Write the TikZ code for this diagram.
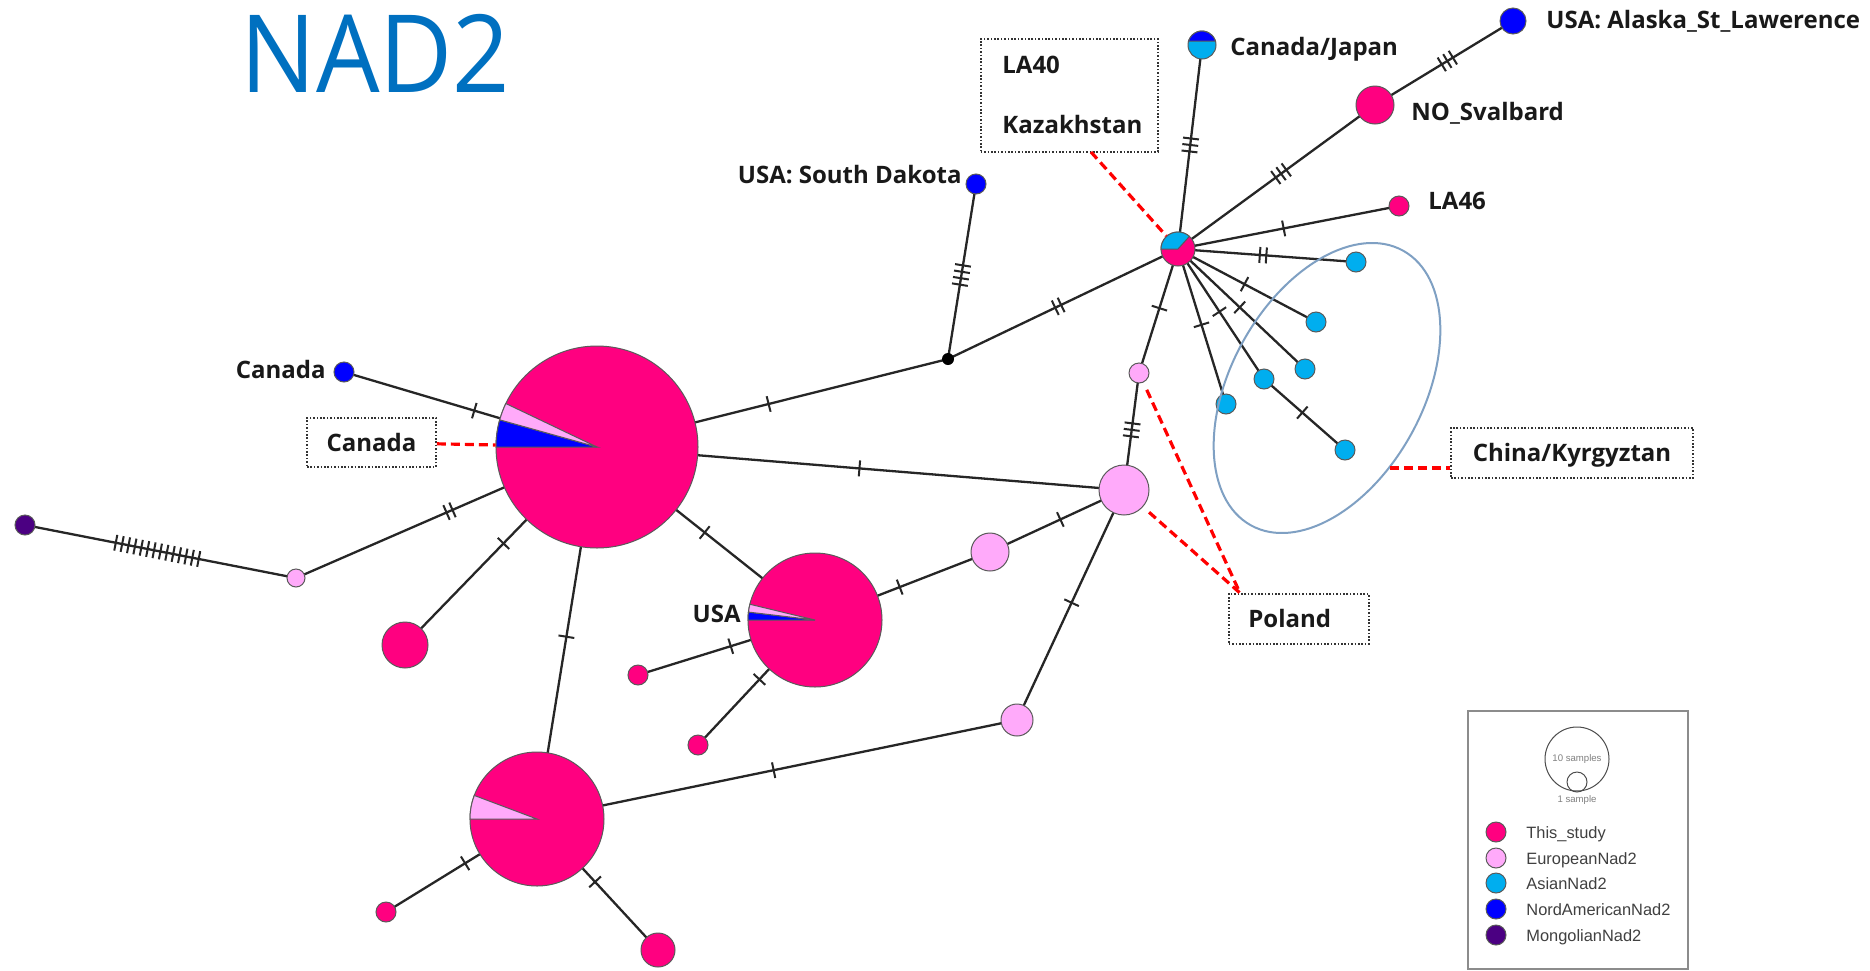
\documentclass[tikz,border=0pt]{standalone}
\usepackage{fontspec}
\setmainfont{Open Sans}
\newfontfamily\legfont{Liberation Sans}
\pgfdeclarelayer{edges}
\pgfsetlayers{edges,main}

\definecolor{studypink}{RGB}{255,0,128}
\definecolor{europink}{RGB}{255,170,250}
\definecolor{asiablue}{RGB}{0,174,239}
\definecolor{nablue}{RGB}{0,0,255}
\definecolor{mongpurple}{RGB}{75,0,130}
\definecolor{titleblue}{RGB}{0,112,192}
\definecolor{hullblue}{RGB}{127,160,195}
\definecolor{rimgray}{RGB}{90,90,90}

\tikzset{
  hap/.style={circle, draw=rimgray, line width=0.5pt, inner sep=0pt, minimum size=#1pt},
  study/.style={hap=#1, fill=studypink},
  euro/.style={hap=#1, fill=europink},
  asia/.style={hap=#1, fill=asiablue},
  nam/.style={hap=#1, fill=nablue},
  mong/.style={hap=#1, fill=mongpurple},
  link/.style={line width=1.15pt, draw=black!85},
  callout/.style={draw=red, line width=1.6pt, dash pattern=on 4.5pt off 2.5pt},
  tag/.style={font=\fontsize{12}{14}\selectfont\bfseries, text=black!90, inner sep=0pt},
  tagbox/.style={draw=black!80, line width=0.8pt, dash pattern=on 0.8pt off 0.9pt, fill=white, inner sep=0pt},
  legtxt/.style={font=\legfont\fontsize{8.2}{10}\selectfont, text=black!75, inner sep=0pt, anchor=base west},
  tiny/.style={font=\legfont\fontsize{4.8}{5}\selectfont, text=black!50, inner sep=0pt},
  pics/tk/.style={code={\foreach \k in {1,...,#1}{\draw[line width=1pt, black!85] ({(\k-(#1+1)/2)*6.5},-8) -- ({(\k-(#1+1)/2)*6.5},8);}}},
}
% slice of a pie chart: node, radius, start angle, end angle, colour
\newcommand\pieslice[5]{\filldraw[fill=#5, draw=rimgray, line width=0.5pt] (#1.center) -- ++(#3:#2) arc[start angle=#3, end angle=#4, radius=#2] -- cycle;}

\begin{document}
\begin{tikzpicture}[x=0.5pt, y=0.5pt]
\begin{pgfonlayer}{edges}
\fill[white] (0,0) rectangle (1870,-970);
\end{pgfonlayer}
\useasboundingbox (0,0) rectangle (1870,-970);

% title
\node[font=\fontsize{54}{60}\selectfont, text=titleblue, inner sep=0pt, anchor=base west] (title) at (240,-92) {\scalebox{0.93}[1]{NAD2}};

% haplotypes of this study
\node[study=101] (main) at (597,-447) {};
\node[study=67] (usa) at (815,-620) {};
\node[study=67] (low) at (537,-819) {};
\node[study=17] (hub) at (1178,-249) {};
\node[study=23] (s1) at (405,-645) {};
\node[study=10] (s2) at (638,-675) {};
\node[study=10] (s3) at (698,-745) {};
\node[study=10] (s4) at (386,-912) {};
\node[study=17] (s5) at (658,-950) {};
\node[study=19] (nos) at (1375,-105) {};
\node[study=10] (la46) at (1399,-206) {};
% reference haplotypes
\node[mong=10] (mg) at (25,-525) {};
\node[euro=9] (e1) at (296,-578) {};
\node[euro=19] (e2) at (990,-552) {};
\node[euro=25] (e3) at (1124,-490) {};
\node[euro=16] (e4) at (1017,-720) {};
\node[euro=10] (e5) at (1139,-373) {};
\node[nam=10] (cn) at (344,-372) {};
\node[nam=10] (sd) at (976,-184) {};
\node[nam=13] (ak) at (1513,-21) {};
\node[asia=14] (cj) at (1202,-45) {};
\node[asia=10] (a1) at (1356,-262) {};
\node[asia=10] (a2) at (1316,-322) {};
\node[asia=10] (a3) at (1305,-369) {};
\node[asia=10] (a4) at (1264,-379) {};
\node[asia=10] (a5) at (1226,-404) {};
\node[asia=10] (a6) at (1345,-450) {};
\node[circle, fill=black, inner sep=0pt, minimum size=6pt] (mv) at (948,-359) {};

% pie slices
\pieslice{main}{101}{164.4}{180}{nablue}
\pieslice{main}{101}{154.5}{164.4}{europink}
\pieslice{usa}{67}{173.2}{180}{nablue}
\pieslice{usa}{67}{166.4}{173.2}{europink}
\pieslice{low}{67}{159.4}{180}{europink}
\pieslice{hub}{17}{48}{180}{asiablue}
\filldraw[fill=nablue, draw=rimgray, line width=0.5pt] (cj.center) ++(16.6:14) arc[start angle=16.6, end angle=163.4, radius=14] -- cycle;

% mutational links
\begin{pgfonlayer}{edges}
\draw[link] (mg.center) -- pic[pos=.488,sloped]{tk=14} (e1.center);
\draw[link] (e1.center) -- pic[pos=.510,sloped]{tk=2} (main.center);
\draw[link] (cn.center) -- pic[pos=.515,sloped]{tk=1} (main.center);
\draw[link] (main.center) -- pic[pos=.487,sloped]{tk=1} (s1.center);
\draw[link] (main.center) -- pic[pos=.510,sloped]{tk=1} (low.center);
\draw[link] (main.center) -- pic[pos=.494,sloped]{tk=1} (usa.center);
\draw[link] (main.center) -- pic[pos=.489,sloped]{tk=1} (mv.center);
\draw[link] (main.center) -- pic[pos=.498,sloped]{tk=1} (e3.center);
\draw[link] (mv.center) -- pic[pos=.480,sloped]{tk=4} (sd.center);
\draw[link] (mv.center) -- pic[pos=.479,sloped]{tk=2} (hub.center);
\draw[link] (usa.center) -- pic[pos=.476,sloped]{tk=1} (s2.center);
\draw[link] (usa.center) -- pic[pos=.475,sloped]{tk=1} (s3.center);
\draw[link] (usa.center) -- pic[pos=.484,sloped]{tk=1} (e2.center);
\draw[link] (e2.center) -- pic[pos=.525,sloped]{tk=1} (e3.center);
\draw[link] (e3.center) -- pic[pos=.490,sloped]{tk=1} (e4.center);
\draw[link] (e4.center) -- pic[pos=.507,sloped]{tk=1} (low.center);
\draw[link] (low.center) -- pic[pos=.476,sloped]{tk=1} (s4.center);
\draw[link] (low.center) -- pic[pos=.480,sloped]{tk=1} (s5.center);
\draw[link] (e3.center) -- pic[pos=.514,sloped]{tk=3} (e5.center);
\draw[link] (e5.center) -- pic[pos=.523,sloped]{tk=1} (hub.center);
\draw[link] (hub.center) -- pic[pos=.510,sloped]{tk=3} (cj.center);
\draw[link] (hub.center) -- pic[pos=.523,sloped]{tk=3} (nos.center);
\draw[link] (nos.center) -- pic[pos=.524,sloped]{tk=3} (ak.center);
\draw[link] (hub.center) -- pic[pos=.478,sloped]{tk=1} (la46.center);
\draw[link] (hub.center) -- pic[pos=.478,sloped]{tk=2} (a1.center);
\draw[link] (hub.center) -- pic[pos=.482,sloped]{tk=1} (a2.center);
\draw[link] (hub.center) -- pic[pos=.486,sloped]{tk=1} (a3.center);
\draw[link] (hub.center) -- pic[pos=.482,sloped]{tk=1} (a4.center);
\draw[link] (hub.center) -- pic[pos=.489,sloped]{tk=1} (a5.center);
\draw[link] (a4.center) -- pic[pos=.473,sloped]{tk=1} (a6.center);
\end{pgfonlayer}

% Asian cluster outline
\draw[hullblue, line width=1pt, rotate around={61:(1327,-388)}] (1327,-388) ellipse [x radius=157, y radius=96];

% haplotype labels
\node[tag, anchor=base east] (cnlab) at (326,-378) {Canada};
\node[tag, anchor=base east] (sdlab) at (962,-183) {USA: South Dakota};
\node[tag, anchor=base east] (usalab) at (741,-622) {USA};
\node[tag, anchor=base west] (cjlab) at (1230,-55) {Canada/Japan};
\node[tag, anchor=base west] (noslab) at (1411,-120) {NO\_Svalbard};
\node[tag, anchor=base west] (aklab) at (1546,-28) {USA: Alaska\_St\_Lawerence};
\node[tag, anchor=base west] (la46lab) at (1428,-209) {LA46};

% call-out boxes
\node[tagbox, tag, draw=black!80, inner sep=0pt, minimum width=64.5pt, minimum height=24.5pt, text height=8.6pt, text depth=0pt] (canbox) at (371.5,-442.5) {Canada};
\node[tagbox, minimum width=88.5pt, minimum height=56.5pt, anchor=north west] (kazbox) at (980,-38) {};
\node[tag, anchor=base west] (la40) at (1002,-73) {LA40};
\node[tag, anchor=base west] (kaz) at (1002,-133) {Kazakhstan};
\node[tagbox, minimum width=70pt, minimum height=25pt, anchor=north west] (polbox) at (1228,-593) {};
\node[tag, anchor=base west] (pol) at (1248,-627) {Poland};
\node[tagbox, tag, draw=black!80, inner sep=0pt, minimum width=121pt, minimum height=25pt, text height=8.6pt, text depth=0pt] (chbox) at (1572,-453) {China/Kyrgyztan};

\coordinate (kazfoot) at (1091,-152);
\coordinate (polfoot) at (1240,-593);
\coordinate (chfoot) at (1390,-468);
\draw[callout] (canbox) -- (main);
\draw[callout] (kazfoot) -- (hub);
\draw[callout, shorten <=4pt] (e5) -- (polfoot);
\draw[callout, shorten <=4pt] (e3) -- (polfoot);
\draw[callout] (chfoot) -- (chbox.west |- chfoot);

% legend
\node[draw=black!45, line width=0.8pt, minimum width=110pt, minimum height=129pt, inner sep=0pt, anchor=north west] (leg) at (1467,-710) {};
\node[circle, draw=black!70, line width=0.5pt, minimum size=32pt, inner sep=0pt, tiny] (k10) at (1577,-759) {10 samples};
\node[circle, draw=black!70, line width=0.5pt, minimum size=10pt, inner sep=0pt] (k1) at (1577,-782) {};
\node[tiny, anchor=base] (k1t) at (1577,-802) {1 sample};
\node[study=10] (l1) at (1496,-832) {};
\node[legtxt] (l1t) at (1526,-838) {This\_study};
\node[euro=10] (l2) at (1496,-858) {};
\node[legtxt] (l2t) at (1526,-864) {EuropeanNad2};
\node[asia=10] (l3) at (1496,-883) {};
\node[legtxt] (l3t) at (1526,-889) {AsianNad2};
\node[nam=10] (l4) at (1496,-909) {};
\node[legtxt] (l4t) at (1526,-915) {NordAmericanNad2};
\node[mong=10] (l5) at (1496,-935) {};
\node[legtxt] (l5t) at (1526,-941) {MongolianNad2};
\end{tikzpicture}
\end{document}
